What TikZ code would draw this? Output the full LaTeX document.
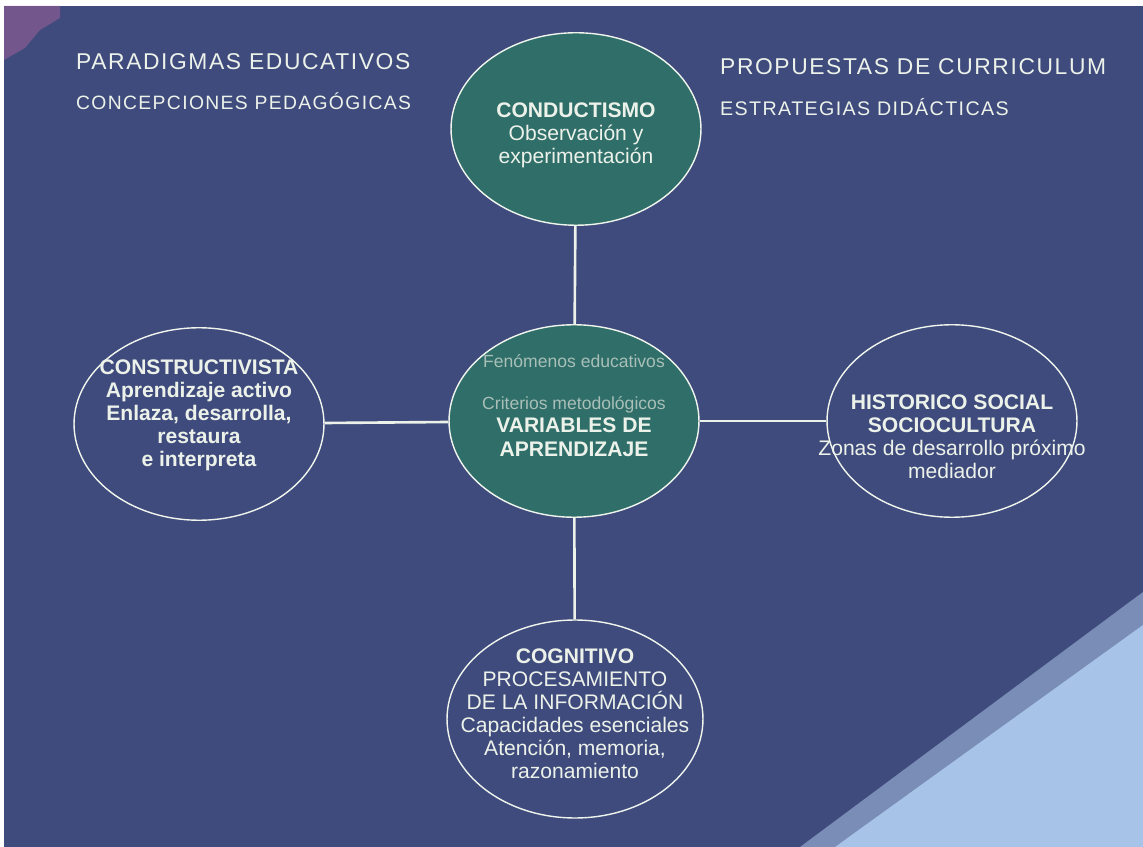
\documentclass[tikz,border=0pt]{standalone}
\usepackage{fontspec}
\setmainfont{Liberation Sans}
\usetikzlibrary{shapes.geometric}
\definecolor{fondo}{HTML}{3F4B7C}
\definecolor{verde}{HTML}{2F6E69}
\definecolor{tinta}{HTML}{ECF2EA}
\definecolor{tenue}{HTML}{A9BFB8}
\definecolor{esquina}{HTML}{A8C3E8}
\definecolor{rosa}{HTML}{8A5C92}
\newcommand\elw{5cm}
\newcommand\elh{3.85cm}
\newcommand\titulo[1]{\addfontfeature{LetterSpace=7}#1}

\begin{document}
\begin{tikzpicture}[x=0.02cm, y=-0.02cm]
	\tikzstyle{every node}=[font=\fontsize{12}{13}\selectfont, text=tinta]
	\tikzstyle{every label}=[align=center, font=\fontsize{12}{13.2}\selectfont]
	\tikzstyle{elipse}=[ellipse, draw=tinta!85, line width=0.8pt, inner sep=0pt, minimum width=\elw, minimum height=\elh]
	\tikzstyle{union}=[draw=tinta, line width=1.5pt]
	
	%fondo
	\fill[white] (0,0) rectangle (1143,847);
	\fill[fondo] (4,6) rectangle (1143,847);
	\fill[rosa, opacity=0.7] (4,6) -- (60,6) -- (60,18) -- (40,30) -- (25,48) -- (4,60) -- cycle;
	\fill[esquina!55!fondo] (800,847) -- (1143,592) -- (1143,635) -- (835,847) -- cycle;
	\fill[esquina] (835,847) -- (1143,625) -- (1143,847) -- cycle;
	
	%titulos
	\node[anchor=base west, font=\fontsize{13}{14}\selectfont] (parad) at (70,70) {\titulo{PARADIGMAS EDUCATIVOS}};
	\node[anchor=base west, font=\fontsize{11}{12}\selectfont] (conc) at (70,110) {\titulo{CONCEPCIONES PEDAGÓGICAS}};
	\node[anchor=base west, font=\fontsize{13}{14}\selectfont] (prop) at (714,75) {\titulo{PROPUESTAS DE CURRICULUM}};
	\node[anchor=base west, font=\fontsize{11.2}{12}\selectfont] (estr) at (714,116) {\titulo{ESTRATEGIAS DIDÁCTICAS}};
	
	%elipses
	\node[elipse, fill=verde, label={[yshift=-3.5pt]center:{\textbf{CONDUCTISMO}\\Observación y\\experimentación}}] (cond) at (576,129) {};
	\node[elipse, fill=verde, label={[yshift=9pt]center:{{\color{tenue}\fontsize{10}{12}\selectfont Fenómenos educativos}\\[11pt]{\color{tenue}\fontsize{10}{12}\selectfont Criterios metodológicos}\\\textbf{VARIABLES DE}\\\textbf{APRENDIZAJE}}}] (vari) at (574,421) {};
	\node[elipse, label={[yshift=5pt]center:{\textbf{CONSTRUCTIVISTA}\\\textbf{Aprendizaje activo}\\\textbf{Enlaza, desarrolla,}\\\textbf{restaura}\\\textbf{e interpreta}}}] (cons) at (199,424) {};
	\node[elipse, label={[yshift=-9pt]center:{\textbf{HISTORICO SOCIAL}\\\textbf{SOCIOCULTURA}\\Zonas de desarrollo próximo\\mediador}}] (hist) at (952,421) {};
	\node[elipse, minimum width=5.12cm, minimum height=3.96cm, label={[yshift=3pt]center:{\textbf{COGNITIVO}\\PROCESAMIENTO\\DE LA INFORMACIÓN\\Capacidades esenciales\\Atención, memoria,\\razonamiento}}] (cogn) at (575,719) {};
	
	%uniones
	\draw[union] (cond) -- (vari);
	\draw[union] (cons) -- (vari);
	\draw[union] (vari) -- (hist);
	\draw[union] (vari) -- (cogn);
\end{tikzpicture}
\end{document}
